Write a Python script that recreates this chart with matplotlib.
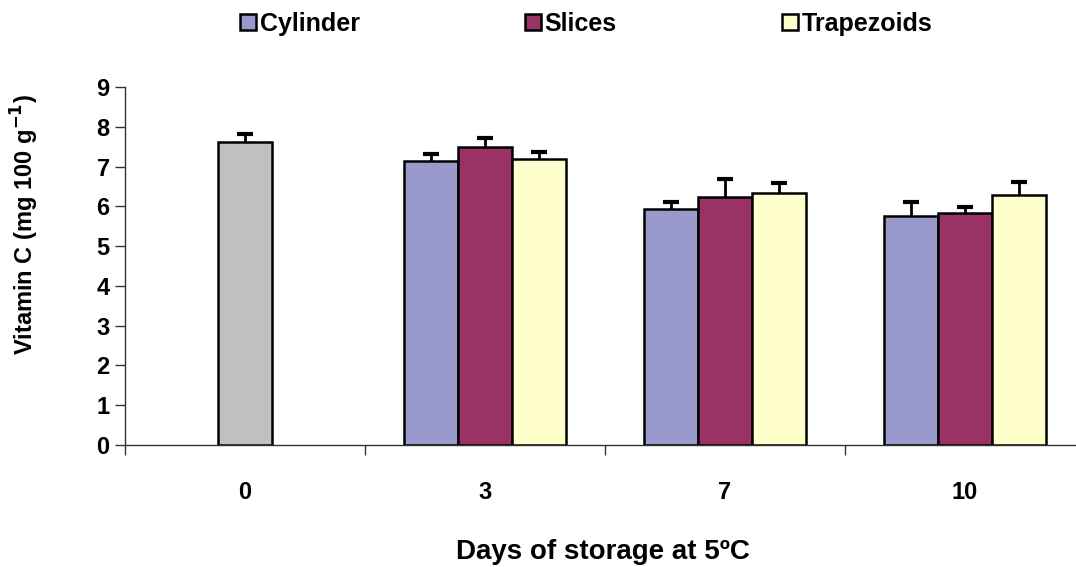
import numpy as np
import matplotlib.pyplot as plt
from matplotlib.patches import Patch

# storage days on the x axis
days = ['0', '3', '7', '10']

# day 0 control (fresh, before cutting)
control_mean = 7.61
control_err = 0.20

# vitamin C after storage, one value per cut shape (days 3, 7, 10)
cylinder = [7.14, 5.93, 5.75]
slices = [7.49, 6.23, 5.83]
trapezoids = [7.19, 6.33, 6.28]

cylinder_err = [0.17, 0.17, 0.35]
slices_err = [0.22, 0.45, 0.15]
trapezoids_err = [0.17, 0.25, 0.32]

shape_names = ['Cylinder', 'Slices', 'Trapezoids']
shape_colors = ['#9999CC', '#993366', '#FFFFCC']
control_color = '#C0C0C0'

plt.rcParams['font.family'] = ['Liberation Sans', 'DejaVu Sans']
plt.rcParams['font.weight'] = 'bold'

fig = plt.figure(figsize=(10.76, 5.67), dpi=100)
# axes runs a bit past the right edge, like in the original
ax = fig.add_axes([125 / 1076, 122 / 567, 960 / 1076, 358 / 567])

bar_w = 0.225
edge_lw = 1.8

# error bars go behind the bars so only the upper half shows
ax.bar(0, control_mean, width=bar_w, color=control_color,
       edgecolor='black', linewidth=edge_lw, zorder=2)
ax.errorbar(0, control_mean, yerr=control_err, fmt='none',
            ecolor='black', elinewidth=2.0, capsize=5.5, capthick=3.0, zorder=1)

# the three shapes, grouped around days 3, 7, 10
pos = np.arange(1, 4)
series = [cylinder, slices, trapezoids]
errors = [cylinder_err, slices_err, trapezoids_err]
for k in range(3):
    x = pos + (k - 1) * bar_w
    ax.bar(x, series[k], width=bar_w, color=shape_colors[k],
           edgecolor='black', linewidth=edge_lw, zorder=2)
    ax.errorbar(x, series[k], yerr=errors[k], fmt='none',
                ecolor='black', elinewidth=2.0, capsize=5.5, capthick=3.0, zorder=1)

ax.set_xlim(-0.5, 3.5)
ax.set_ylim(0, 9)
ax.set_yticks(range(0, 10))

# tick marks at category borders, labels at centers
ax.set_xticks([-0.5, 0.5, 1.5, 2.5, 3.5])
ax.set_xticklabels([])
ax.set_xticks(range(4), minor=True)
ax.set_xticklabels(days, minor=True)
ax.tick_params(axis='x', which='major', direction='out', length=7, width=1, color='#333333')
ax.tick_params(axis='x', which='minor', length=0, pad=26, labelsize=17)
ax.tick_params(axis='y', direction='out', length=7, width=1, color='#333333',
               labelsize=17, pad=4)

for side in ['top', 'right']:
    ax.spines[side].set_visible(False)
for side in ['left', 'bottom']:
    ax.spines[side].set_linewidth(1.0)
    ax.spines[side].set_color('#333333')

ax.set_ylabel('Vitamin C (mg 100 g$^{\\mathbf{-1}}$)', fontsize=17, fontweight='bold')
ax.yaxis.set_label_coords(-0.088, 0.615)
ax.set_xlabel('Days of storage at 5ºC', fontsize=20, fontweight='bold')
ax.xaxis.set_label_coords(0.498, -0.262)

handles = [Patch(facecolor=c, edgecolor='black', linewidth=1.8) for c in shape_colors]
fig.legend(handles, shape_names, loc='center', bbox_to_anchor=(586 / 1076, 1 - 24 / 567),
           ncol=3, frameon=False, fontsize=18, handlelength=0.64, handleheight=0.64,
           handletextpad=0.15, columnspacing=6.6)

fig.savefig('out.png', dpi=100)
